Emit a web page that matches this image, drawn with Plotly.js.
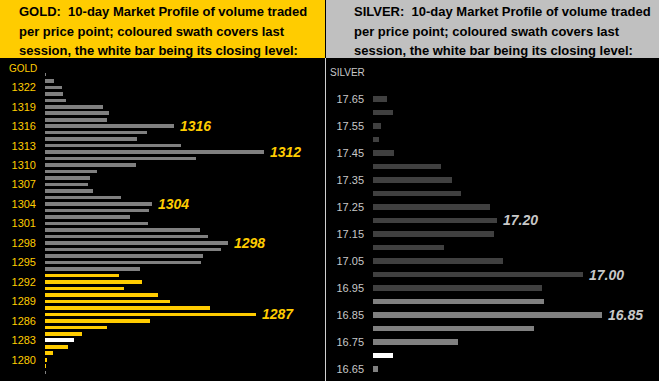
<!DOCTYPE html>
<html>
<head>
<meta charset="utf-8">
<script src="https://cdn.plot.ly/plotly-3.0.1.min.js"></script>
<style>
  html, body { margin: 0; padding: 0; background: #000; }
  #chart { width: 659px; height: 381px; }
</style>
</head>
<body>
<div id="chart"></div>
<script>
// ---------- DATA ----------
// Gold: price level (USD) and 10-day volume traded at that level (relative units)
var goldPrices  = [1324,1323,1322,1321,1320,1319,1318,1317,1316,1315,1314,1313,1312,1311,1310,1309,1308,1307,1306,1305,1304,1303,1302,1301,1300,1299,1298,1297,1296,1295,1294,1293,1292,1291,1290,1289,1288,1287,1286,1285,1284,1283,1282,1281,1280,1279,1278];
var goldVolumes = [1,9,17,18,21,58,64,62,129,102,92,136,219,151,91,52,45,43,48,76,107,104,85,103,155,163,183,176,158,156,95,74,97,79,113,125,165,211,105,62,37,29,23,8,2,1,1];
var goldSessionLow = 1279, goldSessionHigh = 1293, goldClose = 1283;
var goldTicks = [1322,1319,1316,1313,1310,1307,1304,1301,1298,1295,1292,1289,1286,1283,1280];
var goldMarks = [1316,1312,1304,1298,1287];

// Silver
var silverPrices  = [17.65,17.60,17.55,17.50,17.45,17.40,17.35,17.30,17.25,17.20,17.15,17.10,17.05,17.00,16.95,16.90,16.85,16.80,16.75,16.70,16.65];
var silverVolumes = [14,20,8,6,21,68,79,88,117,124,121,71,130,210,169,171,229,161,85,20,5];
var silverSessionLow = 16.65, silverSessionHigh = 16.90, silverClose = 16.70;
var silverTicks = [17.65,17.55,17.45,17.35,17.25,17.15,17.05,16.95,16.85,16.75,16.65];
var silverMarks = [17.20,17.00,16.85];

var goldTitle = ["GOLD:  10-day Market Profile of volume traded",
                 "per price point; coloured swath covers last",
                 "session, the white bar being its closing level:"];
var silverTitle = ["SILVER:  10-day Market Profile of volume traded",
                   "per price point; coloured swath covers last",
                   "session, the white bar being its closing level:"];

// ---------- STYLE ----------
var W = 659, H = 381;
var GOLD = '#FFCC00', GREY = '#808080', DARK = '#404040', WHITE = '#FFFFFF', SILVERTXT = '#C8C8C8';
var FONT = 'Liberation Sans, Arial, sans-serif';

function colorsFor(prices, lo, hi, close, base, swath) {
  return prices.map(function (p) {
    if (Math.abs(p - close) < 1e-9) return WHITE;
    if (p >= lo - 1e-9 && p <= hi + 1e-9) return swath;
    return base;
  });
}
function volAt(prices, vols, p) {
  for (var i = 0; i < prices.length; i++) if (Math.abs(prices[i] - p) < 1e-9) return vols[i];
  return 0;
}

var traces = [
  {
    type: 'bar', orientation: 'h', xaxis: 'x', yaxis: 'y',
    y: goldPrices, x: goldVolumes, width: 0.55,
    marker: { color: colorsFor(goldPrices, goldSessionLow, goldSessionHigh, goldClose, GREY, GOLD) },
    hoverinfo: 'none'
  },
  {
    type: 'bar', orientation: 'h', xaxis: 'x2', yaxis: 'y2',
    y: silverPrices, x: silverVolumes, width: 0.019,
    marker: { color: colorsFor(silverPrices, silverSessionLow, silverSessionHigh, silverClose, DARK, GREY) },
    hoverinfo: 'none'
  }
];

var annotations = [];
goldTitle.forEach(function (t, i) {
  annotations.push({ xref: 'paper', yref: 'paper', x: 17 / W, y: 1 - (12 + 19 * i) / H,
    xanchor: 'left', yanchor: 'middle', showarrow: false, text: '<b>' + t + '</b>',
    font: { family: FONT, size: 13, color: '#000' } });
});
silverTitle.forEach(function (t, i) {
  annotations.push({ xref: 'paper', yref: 'paper', x: 352 / W, y: 1 - (12 + 19 * i) / H,
    xanchor: 'left', yanchor: 'middle', showarrow: false, text: '<b>' + t + '</b>',
    font: { family: FONT, size: 13, color: '#000' } });
});
annotations.push({ xref: 'paper', yref: 'paper', x: 7 / W, y: 1 - 68 / H, xanchor: 'left', yanchor: 'middle',
  showarrow: false, text: 'GOLD', font: { family: FONT, size: 10, color: GOLD } });
annotations.push({ xref: 'paper', yref: 'paper', x: 328 / W, y: 1 - 72 / H, xanchor: 'left', yanchor: 'middle',
  showarrow: false, text: 'SILVER', font: { family: FONT, size: 10, color: SILVERTXT } });

goldMarks.forEach(function (p) {
  annotations.push({ xref: 'x', yref: 'y', x: volAt(goldPrices, goldVolumes, p), y: p,
    xanchor: 'left', yanchor: 'middle', xshift: 4, showarrow: false,
    text: '<b><i>' + p + '</i></b>', font: { family: FONT, size: 14, color: GOLD } });
});
silverMarks.forEach(function (p) {
  annotations.push({ xref: 'x2', yref: 'y2', x: volAt(silverPrices, silverVolumes, p), y: p,
    xanchor: 'left', yanchor: 'middle', xshift: 4, showarrow: false,
    text: '<b><i>' + p.toFixed(2) + '</i></b>', font: { family: FONT, size: 14, color: SILVERTXT } });
});

var shapes = [
  { type: 'rect', xref: 'paper', yref: 'paper', x0: 0, x1: 325 / W, y0: 1 - 58 / H, y1: 1,
    fillcolor: GOLD, line: { width: 0 }, layer: 'below' },
  { type: 'rect', xref: 'paper', yref: 'paper', x0: 326 / W, x1: 1, y0: 1 - 58 / H, y1: 1,
    fillcolor: '#C0C0C0', line: { width: 0 }, layer: 'below' },
  { type: 'line', xref: 'paper', yref: 'paper', x0: 325.5 / W, x1: 325.5 / W, y0: 0, y1: 1 - 58 / H,
    line: { color: '#D0D0D0', width: 1 } }
];

var axisCommon = { showgrid: false, zeroline: false, showline: false, ticks: '', fixedrange: true };

var layout = {
  width: W, height: H,
  margin: { l: 0, r: 0, t: 0, b: 0, pad: 0 },
  paper_bgcolor: '#000', plot_bgcolor: 'rgba(0,0,0,0)',
  showlegend: false, bargap: 0,
  xaxis: Object.assign({}, axisCommon, { domain: [45 / W, 325 / W], range: [0, 280], visible: false }),
  yaxis: Object.assign({}, axisCommon, {
    domain: [0, 1 - 60 / H], range: [1276.72, 1326.21], anchor: 'x',
    tickmode: 'array', tickvals: goldTicks, ticktext: goldTicks.map(String),
    tickfont: { family: FONT, size: 11, color: GOLD }, ticklabelstandoff: 8
  }),
  xaxis2: Object.assign({}, axisCommon, { domain: [373 / W, 1], range: [0, 286], visible: false, anchor: 'y2' }),
  yaxis2: Object.assign({}, axisCommon, {
    domain: [0, 1 - 60 / H], range: [16.6056, 17.7944], anchor: 'x2',
    tickmode: 'array', tickvals: silverTicks, ticktext: silverTicks.map(function (v) { return v.toFixed(2); }),
    tickfont: { family: FONT, size: 11, color: SILVERTXT }, ticklabelstandoff: 8
  }),
  annotations: annotations,
  shapes: shapes
};

Plotly.newPlot('chart', traces, layout, { staticPlot: true, displayModeBar: false });
</script>
</body>
</html>
